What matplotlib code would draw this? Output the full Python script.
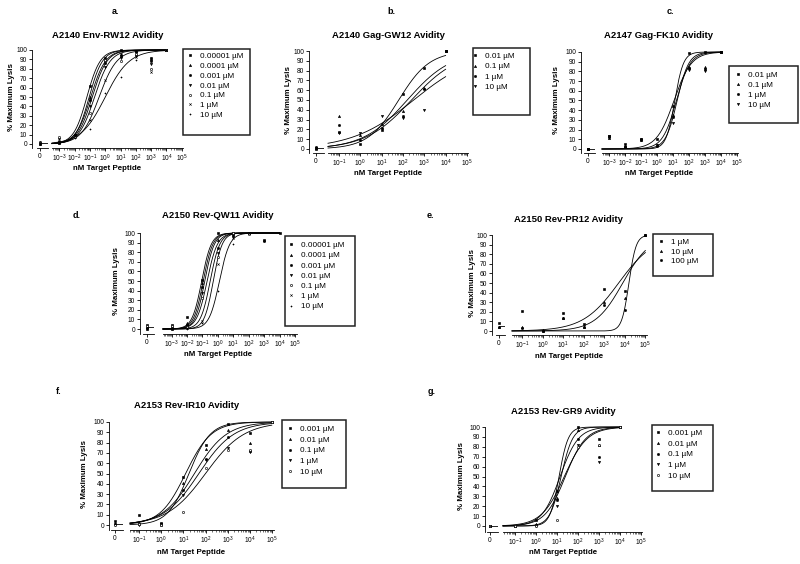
import numpy as np
import matplotlib
matplotlib.use("Agg")
import matplotlib.pyplot as plt
from matplotlib.patches import Rectangle
from matplotlib.ticker import LogLocator, NullFormatter, FixedLocator, FuncFormatter

plt.rcParams["font.family"] = ["Liberation Sans", "DejaVu Sans"]
plt.rcParams["mathtext.fontset"] = "custom"
plt.rcParams["mathtext.rm"] = "Liberation Sans"
plt.rcParams["mathtext.it"] = "Liberation Sans:italic"
plt.rcParams["mathtext.bf"] = "Liberation Sans:bold"

nan = np.nan

# a. A2140 Env-RW12
a_conc = [1e-3, 1e-2, 1e-1, 1, 10, 100, 1e3, 1e4]
a_labels = ["0.00001 µM", "0.0001 µM", "0.001 µM", "0.01 µM", "0.1 µM", "1 µM", "10 µM"]
a_zero = [0, 1, 2, 0, 1, 0, 1]
a_values = [
    [2, 10, 62, 92, 100, 99, 92, 100],
    [1, 9, 50, 89, 96, 96, 90, 100],
    [2, 8, 47, 86, 94, 98, 88, 100],
    [5, 10, 40, 82, 91, 94, 85, 100],
    [7, 7, 33, 89, 88, 96, 80, 100],
    [3, 8, 26, 68, 96, 93, 77, 100],
    [1, 6, 16, 54, 71, 89, 92, 100],
]
a_logec50 = [-1.2, -1.05, -0.95, -0.85, -0.7, -0.4, 0.0]
a_hill = [1.0, 1.0, 0.9, 0.9, 0.85, 0.75, 0.55]

# b. A2140 Gag-GW12
b_conc = [1e-1, 1, 10, 100, 1e3, 1e4]
b_labels = ["0.01 µM", "0.1 µM", "1 µM", "10 µM"]
b_zero = [0, 1, 2, 1]
b_values = [
    [17, 5, 19, 56, 83, 100],
    [34, 14, 26, 39, 62, 100],
    [24, 9, 21, 34, 61, 100],
    [16, 16, 34, 32, 40, 100],
]
b_logec50 = [1.8, 2.2, 2.4, 2.5]
b_hill = [0.6, 0.42, 0.4, 0.3]

# c. A2147 Gag-FK10
c_conc = [1e-3, 1e-2, 1e-1, 1, 10, 100, 1e3, 1e4]
c_labels = ["0.01 µM", "0.1 µM", "1 µM", "10 µM"]
c_zero = [0, 0, 0, 0]
c_values = [
    [13, 5, 10, 10, 44, 99, 100, 100],
    [11, 3, 9, 4, 35, 85, 85, 100],
    [12, 2, 10, 3, 33, 83, 82, 100],
    [13, 2, 9, 4, 27, 81, 80, 100],
]
c_logec50 = [1.1, 1.05, 1.2, 1.25]
c_hill = [1.6, 0.8, 1.0, 1.2]

# d. A2150 Rev-QW11
d_conc = [1e-3, 1e-2, 1e-1, 1, 10, 100, 1e3, 1e4]
d_labels = a_labels
d_zero = [4, 2, 0, 1, 3, 0, 1]
d_values = [
    [4, 12, 51, 100, 100, 100, 93, 100],
    [2, 6, 48, 93, 100, 100, nan, nan],
    [0, 4, 44, 84, 98, 100, 92, nan],
    [1, 3, 37, 79, 96, 100, nan, nan],
    [3, 2, 32, 75, 100, 99, nan, nan],
    [0, 1, 8, 68, 95, 100, nan, nan],
    [1, 0, 6, 40, 89, 100, nan, nan],
]
d_logec50 = [-1.05, -0.95, -0.85, -0.7, -0.5, -0.3, 0.1]
d_hill = [1.4, 1.4, 1.4, 1.3, 1.4, 1.5, 1.3]

# e. A2150 Rev-PR12
e_conc = [1e-1, 1, 10, 100, 1e3, 1e4, 1e5]
e_labels = ["1 µM", "10 µM", "100 µM"]
e_zero = [8, 4, 4]
e_values = [
    [21, 0, 19, 7, 44, 42, 100],
    [4, 1, 14, 4, 30, 34, 100],
    [3, 0, 14, 4, 27, 22, 100],
]
e_logec50 = [3.7, 3.9, 4.2]
e_hill = [0.5, 0.65, 2.5]

# f. A2153 Rev-IR10
f_conc = [1e-1, 1, 10, 100, 1e3, 1e4, 1e5]
f_labels = ["0.001 µM", "0.01 µM", "0.1 µM", "1 µM", "10 µM"]
f_zero = [4, 2, 1, 0, 0]
f_values = [
    [10, 2, 47, 78, 98, 89, 100],
    [2, 1, 41, 74, 92, 80, 100],
    [1, 0, 34, 64, 85, 72, 100],
    [0, 1, 29, 63, 75, 71, 100],
    [1, 0, 13, 55, 73, 73, 100],
]
f_logec50 = [1.1, 1.25, 1.5, 1.7, 2.0]
f_hill = [0.75, 0.9, 0.6, 0.55, 0.5]

# g. A2153 Rev-GR9
g_conc = [1e-1, 1, 10, 100, 1e3, 1e4]
g_labels = f_labels
g_zero = [0, 0, 0, 0, 0]
g_values = [
    [0, 6, 35, 100, 88, 100],
    [0, 2, 28, 97, 82, 100],
    [0, 1, 26, 88, 70, 100],
    [0, 0, 20, 82, 65, 100],
    [0, 0, 6, 80, 82, 100],
]
g_logec50 = [1.1, 1.2, 1.15, 1.35, 1.4]
g_hill = [2.0, 1.6, 1.0, 0.8, 0.9]

MARKERS = ["s", "^", "o", "v", "o", "x", "+"]

W, H = 800, 564
fig = plt.figure(figsize=(W / 100, H / 100), dpi=100)


def fx(x):
    return x / W


def fy(y):
    return 1 - y / H


def draw_panel(letter, title, conc, zero, values, logec50, hill, labels, lay):
    y100, y0, yline = lay["y100"], lay["y0"], lay["axis"]
    k = (yline - y0) / ((y0 - y100) / 100)
    segl, segr = lay["seg"]
    z = lay["z"]

    # small axis for the zero-dose column
    ax0 = fig.add_axes([fx(lay["yax"]), fy(yline), fx(segr - lay["yax"]), (yline - y100) / H])
    ax0.set_xlim(lay["yax"] - z, segr - z)
    ax0.set_ylim(-k, 100)
    ax0.spines[["top", "right"]].set_visible(False)
    ax0.spines["bottom"].set_bounds(segl - z, segr - z)
    ax0.set_xticks([0])
    ax0.set_xticklabels(["0"])
    ax0.set_yticks(range(0, 101, 10))
    ax0.patch.set_visible(False)

    # log axis for the peptide titration
    lo, hi = lay["exps"]
    ax1 = fig.add_axes([fx(lay["log"][0]), fy(yline), fx(lay["log"][1] - lay["log"][0]), (yline - y100) / H])
    ax1.set_xscale("log")
    ax1.set_xlim(10 ** lo, 10 ** hi)
    ax1.set_ylim(-k, 100)
    ax1.spines[["top", "right", "left"]].set_visible(False)
    ax1.set_yticks([])
    decades = [10.0 ** n for n in range(int(np.ceil(lo)), int(np.floor(hi + 0.001)) + 1)]
    ax1.xaxis.set_major_locator(FixedLocator(decades))
    ax1.xaxis.set_major_formatter(FuncFormatter(lambda v, p: r"$10^{%d}$" % round(np.log10(v))))
    ax1.xaxis.set_minor_locator(LogLocator(base=10, subs=np.arange(2, 10), numticks=30))
    ax1.xaxis.set_minor_formatter(NullFormatter())
    ax1.patch.set_visible(False)

    for ax in (ax0, ax1):
        for s in ax.spines.values():
            s.set_linewidth(0.6)
        ax.tick_params(which="major", length=2, width=0.6, pad=1.5, labelsize=4.8)
        ax.tick_params(which="minor", length=1.2, width=0.4)

    xs = np.logspace(lo, np.log10(max(conc)), 300)
    n = len(values)
    for i in range(n):
        fit = 100 / (1 + 10 ** ((logec50[i] - np.log10(xs)) * hill[i]))
        ax1.plot(xs, fit, color="black", lw=0.6, clip_on=False)
    handles = []
    for i in range(n):
        m = MARKERS[i] if n > 4 else ["s", "^", "o", "v"][i]
        face = "white" if (m == "o" and i == 4) else "black"
        h, = ax1.plot(conc, values[i], ls="none", marker=m, ms=1.6, mew=0.45,
                      mfc=face, mec="black", clip_on=False)
        ax0.plot([0], [zero[i]], ls="none", marker=m, ms=1.6, mew=0.45,
                 mfc=face, mec="black", clip_on=False)
        handles.append(h)
    ax0.plot([0, segr - z], [np.mean(zero)] * 2, color="black", lw=0.6)

    # texts
    fig.text(fx(lay["title"][0]), fy(lay["title"][1]), title, ha="center", va="center",
             fontsize=6.8, fontweight="bold")
    fig.text(fx(lay["letter"][0]), fy(lay["letter"][1]), letter, ha="center", va="center",
             fontsize=6.5, fontweight="bold")
    xc = (lay["yax"] + lay["log"][1]) / 2
    fig.text(fx(xc), fy(lay["xlab"]), "nM Target Peptide", ha="center", va="center",
             fontsize=5.7, fontweight="bold")
    fig.text(fx(lay["ylab"]), fy((y100 + y0) / 2), "% Maximum Lysis", ha="center", va="center",
             rotation=90, fontsize=5.7, fontweight="bold")

    # legend with square box
    bx0, by0, bx1, by1 = lay["box"]
    fig.add_artist(Rectangle((fx(bx0), fy(by1)), (bx1 - bx0) / W, (by1 - by0) / H,
                             transform=fig.transFigure, fill=False, lw=1.1, ec="#222222"))
    ax1.legend(handles, labels, loc="upper left",
               bbox_to_anchor=(fx(lay["mx"] - 4), fy(lay["ly"] - 5.5)),
               bbox_transform=fig.transFigure, frameon=False, fontsize=5.9,
               handlelength=0.6, handletextpad=0.9, labelspacing=lay["sp"],
               borderpad=0, borderaxespad=0, markerscale=1.0)


layouts = {
    "a": dict(yax=32, seg=(37, 48), z=40, log=(52, 183), exps=(-3.48, 5.08), y100=50, y0=144, axis=148,
              title=(108, 35), letter=(116, 12), xlab=168, ylab=12, box=(183, 49, 250, 135),
              ly=58, mx=192, sp=0.25),
    "b": dict(yax=309, seg=(313, 324), z=316, log=(328, 468), exps=(-1.52, 5.05), y100=51, y0=149, axis=153,
              title=(388, 35), letter=(391, 12), xlab=173, ylab=288, box=(473, 48, 530, 115),
              ly=58, mx=477, sp=0.3),
    "c": dict(yax=581, seg=(584, 595), z=588, log=(602, 738), exps=(-3.46, 5.06), y100=52, y0=149, axis=153,
              title=(658, 35), letter=(670, 12), xlab=173, ylab=557, box=(729, 66, 798, 123),
              ly=77, mx=740, sp=0.28),
    "d": dict(yax=140, seg=(143, 154), z=147, log=(163, 297), exps=(-3.56, 5.13), y100=233, y0=329, axis=334,
              title=(218, 216), letter=(77, 215), xlab=355, ylab=117, box=(285, 236, 355, 326),
              ly=247, mx=293, sp=0.3),
    "e": dict(yax=492, seg=(496, 505), z=499, log=(512, 647), exps=(-1.49, 5.08), y100=235, y0=331, axis=335,
              title=(568, 220), letter=(430, 215), xlab=357, ylab=472, box=(653, 234, 713, 276),
              ly=244, mx=663, sp=0.22),
    "f": dict(yax=109, seg=(111, 123), z=115, log=(130, 274), exps=(-1.42, 5.1), y100=422, y0=525, axis=530,
              title=(187, 405), letter=(59, 392), xlab=552, ylab=85, box=(282, 420, 346, 488),
              ly=431, mx=292, sp=0.35),
    "g": dict(yax=485, seg=(487, 498), z=490, log=(503, 642), exps=(-1.57, 5.05), y100=427, y0=526, axis=532,
              title=(563, 411), letter=(432, 392), xlab=552, ylab=461, box=(652, 425, 713, 491),
              ly=435, mx=660, sp=0.35),
}

draw_panel("a.", "A2140 Env-RW12 Avidity", a_conc, a_zero, a_values, a_logec50, a_hill, a_labels, layouts["a"])
draw_panel("b.", "A2140 Gag-GW12 Avidity", b_conc, b_zero, b_values, b_logec50, b_hill, b_labels, layouts["b"])
draw_panel("c.", "A2147 Gag-FK10 Avidity", c_conc, c_zero, c_values, c_logec50, c_hill, c_labels, layouts["c"])
draw_panel("d.", "A2150 Rev-QW11 Avidity", d_conc, d_zero, d_values, d_logec50, d_hill, d_labels, layouts["d"])
draw_panel("e.", "A2150 Rev-PR12 Avidity", e_conc, e_zero, e_values, e_logec50, e_hill, e_labels, layouts["e"])
draw_panel("f.", "A2153 Rev-IR10 Avidity", f_conc, f_zero, f_values, f_logec50, f_hill, f_labels, layouts["f"])
draw_panel("g.", "A2153 Rev-GR9 Avidity", g_conc, g_zero, g_values, g_logec50, g_hill, g_labels, layouts["g"])

fig.savefig("out.png", dpi=100)
